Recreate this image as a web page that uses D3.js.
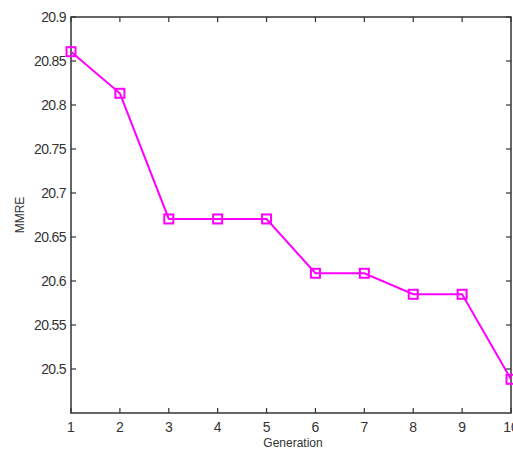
<!DOCTYPE html>
<html><head><meta charset="utf-8">
<script src="https://cdn.jsdelivr.net/npm/d3@7"></script>
<style>body{margin:0;background:#fff;} svg{display:block;}</style>
</head><body>
<svg id="c" width="513" height="452"></svg>
<script>
const generations = [1,2,3,4,5,6,7,8,9,10];
const mmre = [20.8606,20.8133,20.6705,20.6705,20.6705,20.6088,20.6088,20.5849,20.5849,20.4883];
const xTicks = [1,2,3,4,5,6,7,8,9,10];
const yTicks = [20.5,20.55,20.6,20.65,20.7,20.75,20.8,20.85,20.9];
const yTickLabels = ["20.5","20.55","20.6","20.65","20.7","20.75","20.8","20.85","20.9"];
const xLabel = "Generation", yLabel = "MMRE";

const svg = d3.select("#c");
const L=71, R=511, T=17, B=413;
const x = d3.scaleLinear().domain([1,10]).range([L,R]);
const y = d3.scaleLinear().domain([20.45,20.9]).range([B,T]);
const axisCol="#333", font="Liberation Sans, Arial, sans-serif";

// box
svg.append("rect").attr("x",L).attr("y",T).attr("width",R-L).attr("height",B-T)
  .attr("fill","none").attr("stroke",axisCol).attr("stroke-width",1.5);

// x ticks bottom & top (inward)
const tl=5;
const gx=svg.append("g");
xTicks.forEach((t,i)=>{
  gx.append("line").attr("x1",x(t)).attr("x2",x(t)).attr("y1",B).attr("y2",B-tl).attr("stroke",axisCol).attr("stroke-width",1.2);
  gx.append("line").attr("x1",x(t)).attr("x2",x(t)).attr("y1",T).attr("y2",T+tl).attr("stroke",axisCol).attr("stroke-width",1.2);
  gx.append("text").attr("x",x(t)).attr("y",432).attr("text-anchor","middle")
    .attr("font-family",font).attr("font-size",14).attr("fill","#333").text(t);
});
const gy=svg.append("g");
yTicks.forEach((t,i)=>{
  gy.append("line").attr("x1",L).attr("x2",L+tl).attr("y1",y(t)).attr("y2",y(t)).attr("stroke",axisCol).attr("stroke-width",1.2);
  gy.append("line").attr("x1",R).attr("x2",R-tl).attr("y1",y(t)).attr("y2",y(t)).attr("stroke",axisCol).attr("stroke-width",1.2);
  gy.append("text").attr("x",66).attr("y",y(t)+5).attr("text-anchor","end")
    .attr("font-family",font).attr("font-size",14).attr("letter-spacing","-0.6").attr("fill","#333").text(yTickLabels[i]);
});

// labels
svg.append("text").attr("x",(L+R)/2+2).attr("y",447).attr("text-anchor","middle")
  .attr("font-family",font).attr("font-size",12).attr("fill","#333").text(xLabel);
svg.append("text").attr("transform","translate(24,215) rotate(-90)").attr("text-anchor","middle")
  .attr("font-family",font).attr("font-size",12).attr("fill","#333").text(yLabel);

// line
const data = generations.map((g,i)=>({g, v:mmre[i]}));
svg.append("path").datum(data)
  .attr("d", d3.line().x(d=>x(d.g)).y(d=>y(d.v)))
  .attr("fill","none").attr("stroke","#ff00ff").attr("stroke-width",2);
// markers
const ms=9;
svg.selectAll("rect.m").data(data).enter().append("rect").attr("class","m")
  .attr("x",d=>x(d.g)-ms/2).attr("y",d=>y(d.v)-ms/2).attr("width",ms).attr("height",ms)
  .attr("fill","none").attr("stroke","#ff00ff").attr("stroke-width",2);
</script>
</body></html>
